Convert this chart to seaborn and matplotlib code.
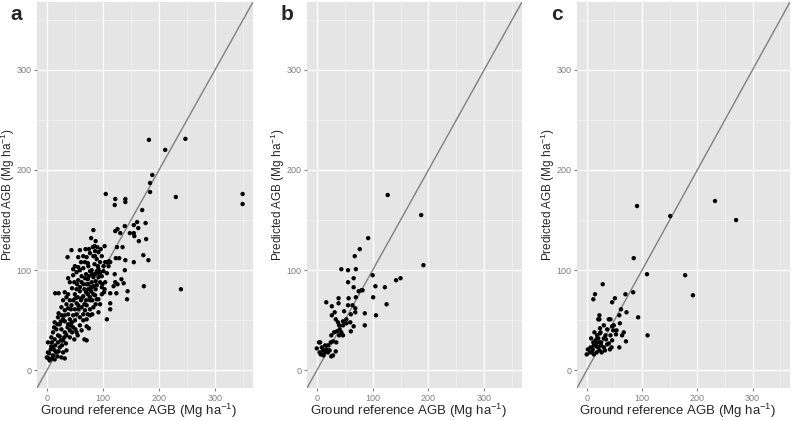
import numpy as np
import pandas as pd
import matplotlib
matplotlib.use("Agg")
import matplotlib.pyplot as plt
import seaborn as sns

# Données (Ground reference AGB, Predicted AGB)
panel_labels = ["a", "b", "c"]
ticks = [0, 100, 200, 300]
minor_ticks = [50, 150, 250, 350]

pts_a = [
    (182, 230), (211, 220), (247, 231), (188, 195), (184, 187), (184, 178), (230, 173),
    (349, 176), (349, 166), (105, 176), (122, 171), (121, 165), (140, 171), (140, 168),
    (170, 160), (161, 148), (155, 145), (163, 142), (148, 137), (156, 134), (122, 139),
    (126, 141), (139, 144), (164, 129), (155, 137), (131, 137), (176, 147), (177, 131),
    (172, 115), (181, 110), (155, 108), (140, 110), (139, 100), (135, 123), (125, 123),
    (129, 112), (123, 112), (173, 84), (239, 81), (144, 79), (143, 71), (107, 51),
    (137, 87), (133, 91), (121, 96), (122, 88), (119, 84), (126, 86), (124, 77),
    (113, 77), (113, 67), (113, 61), (102, 78), (99, 86), (103, 124), (98, 114),
    (111, 109), (108, 108), (92, 101),
    (15, 77), (21, 77), (38, 76), (37, 113), (44, 120), (59, 120), (65, 114), (56, 113),
    (69, 121), (75, 121), (77, 117), (82, 123), (79, 132), (83, 140), (87, 129), (86, 114),
    (73, 107), (50, 104), (56, 103), (47, 95), (65, 102), (68, 92), (62, 88), (54, 86),
    (45, 82), (41, 70), (35, 66), (32, 60), (21, 57), (29, 51), (38, 56), (44, 65),
    (50, 61), (56, 65), (51, 72), (62, 72), (67, 66), (70, 78), (74, 81), (83, 84),
    (87, 89), (92, 93), (95, 98), (91, 104), (101, 104), (98, 94), (80, 100), (75, 94),
    (71, 86), (79, 79), (86, 75), (89, 71), (77, 70), (68, 60), (73, 56), (81, 56),
    (87, 66), (95, 66), (92, 58), (71, 44), (75, 42), (67, 31), (71, 30), (53, 38),
    (59, 45), (47, 43), (41, 40), (32, 38), (26, 41), (20, 35), (14, 31), (8, 24),
    (2, 18), (0, 13), (3, 12), (11, 15), (17, 18), (23, 23), (26, 13), (29, 18),
    (35, 20), (20, 28), (11, 22), (5, 10), (7, 21), (15, 25),
    (41, 51), (47, 55), (53, 56), (59, 53), (65, 56), (56, 61), (62, 63), (70, 70),
    (65, 74), (59, 79), (53, 81), (50, 76), (77, 73), (83, 76), (74, 86), (80, 88),
    (83, 93), (86, 96), (89, 99), (93, 97), (95, 108), (89, 111), (85, 106), (77, 99),
    (70, 96), (62, 94), (56, 90), (49, 88), (41, 88), (38, 92), (32, 78), (35, 73),
    (29, 70), (26, 63), (20, 53), (14, 48), (17, 41), (23, 46), (32, 49), (38, 46),
    (44, 48), (50, 50), (35, 35), (41, 33), (29, 30), (23, 34), (11, 38), (8, 33),
    (2, 28), (4, 17), (9, 12), (14, 11), (19, 14), (32, 12), (27, 25), (34, 27),
    (45, 38), (51, 41), (62, 40), (65, 50), (71, 51), (77, 55), (83, 63), (92, 71),
    (98, 76), (103, 81), (104, 88), (101, 99), (107, 97), (110, 104), (104, 108),
    (113, 108), (74, 104), (68, 108), (61, 108), (53, 98), (59, 100), (47, 101),
    (71, 113), (83, 114), (92, 118), (96, 121), (90, 123), (85, 124), (86, 119),
    (55, 73), (61, 70), (67, 81), (73, 76), (79, 83), (71, 65), (77, 61), (81, 70),
    (87, 81), (89, 85), (95, 88), (98, 83), (81, 96), (73, 91), (65, 86), (59, 83),
    (53, 67), (47, 70), (43, 61), (38, 62), (32, 55), (27, 55), (25, 49), (19, 46),
    (13, 43), (9, 28), (14, 20), (21, 19), (25, 30), (31, 33), (37, 43), (43, 45),
    (49, 31), (55, 35),
]

pts_b = [
    (127, 175), (187, 155), (191, 105), (92, 132), (77, 121), (68, 114), (70, 101),
    (44, 101), (56, 100), (100, 95), (142, 90), (150, 92), (122, 83), (105, 84),
    (101, 73), (125, 66), (106, 55), (86, 45), (86, 57), (66, 92), (56, 88), (66, 83),
    (75, 79), (80, 80), (82, 80), (70, 73), (57, 72), (56, 65), (64, 65), (69, 62),
    (69, 58), (61, 56), (49, 59), (39, 72), (39, 67), (17, 68), (27, 64), (27, 55),
    (32, 58), (34, 51), (38, 48), (40, 45), (47, 49), (53, 51), (53, 47), (60, 48),
    (66, 44), (61, 39), (41, 41), (44, 38), (47, 35), (40, 35), (36, 39), (31, 38),
    (26, 35), (47, 45), (29, 29), (25, 28), (20, 25), (35, 28), (4, 28), (6, 28),
    (0, 22), (5, 18), (11, 20), (14, 18), (17, 21), (20, 18), (23, 20), (7, 16),
    (12, 15), (26, 14), (29, 15), (34, 19), (9, 23), (15, 25),
]

pts_c = [
    (232, 169), (270, 150), (91, 164), (151, 154), (85, 112), (109, 96), (178, 95),
    (192, 75), (29, 86), (84, 78), (70, 76), (15, 76), (12, 71), (51, 72), (46, 68),
    (62, 61), (72, 58), (93, 53), (59, 55), (110, 35), (23, 55), (21, 51), (23, 51),
    (40, 51), (43, 51), (60, 47), (49, 45), (46, 44), (31, 45), (37, 41), (24, 42),
    (14, 38), (25, 38), (54, 40), (67, 38), (64, 35), (71, 29), (59, 23), (53, 36),
    (43, 35), (46, 30), (40, 27), (34, 35), (31, 32), (19, 32), (8, 32), (12, 28),
    (16, 30), (21, 32), (23, 28), (26, 28), (35, 31), (37, 26), (42, 21), (45, 23),
    (31, 23), (26, 25), (21, 23), (18, 24), (13, 25), (7, 23), (2, 21), (6, 18),
    (0, 16), (10, 18), (13, 16), (18, 18), (23, 20), (27, 18), (33, 20), (11, 21),
    (17, 27), (19, 35), (24, 37), (48, 40),
]

frames = []
for lab, pts in zip(panel_labels, [pts_a, pts_b, pts_c]):
    d = pd.DataFrame(pts, columns=["ref", "pred"])
    d["panel"] = lab
    frames.append(d)
df = pd.concat(frames, ignore_index=True)

sns.set_style("darkgrid", {"axes.facecolor": "#E5E5E5", "grid.color": "white"})
plt.rcParams["font.family"] = ["Liberation Sans", "DejaVu Sans"]
plt.rcParams["mathtext.fontset"] = "custom"
plt.rcParams["mathtext.rm"] = "Liberation Sans"
plt.rcParams["mathtext.it"] = "Liberation Sans:italic"

fig = plt.figure(figsize=(7.94, 4.21), dpi=100)
lefts = [37, 307, 577]
widths = [216, 215, 213]
letter_x = [10, 281, 551]

for i, lab in enumerate(panel_labels):
    ax = fig.add_axes([lefts[i] / 794, 33 / 421, widths[i] / 794, 386 / 421])
    sub = df[df["panel"] == lab]
    ax.set_xlim(-17.5, 367.5)
    ax.set_ylim(-17.5, 367.5)
    for m in minor_ticks:
        ax.axvline(m, color="#F2F2F2", lw=0.5, zorder=0.5)
        ax.axhline(m, color="#F2F2F2", lw=0.5, zorder=0.5)
    ax.grid(True, color="white", lw=0.9, zorder=0.6)
    ax.set_axisbelow(True)
    ax.axline((0, 0), slope=1, color="#808080", lw=1.0, zorder=2)
    sns.scatterplot(data=sub, x="ref", y="pred", ax=ax, color="black",
                    s=10, edgecolor="none", linewidth=0, zorder=3)
    ax.set_xticks(ticks)
    ax.set_yticks(ticks)
    ax.tick_params(axis="both", colors="#7F7F7F", labelsize=6.5, length=2.5,
                   width=0.8, direction="out", pad=1.5, bottom=True, left=True)
    ax.set_xlabel("Ground reference AGB (Mg ha$^{-1}$)", fontsize=9.5)
    ax.set_ylabel("Predicted AGB (Mg ha$^{-1}$)", fontsize=8.5)
    ax.xaxis.set_label_coords(0.47, -0.037)
    ax.yaxis.set_label_coords(-0.092, 0.5)
    for sp in ax.spines.values():
        sp.set_visible(False)
    fig.text(letter_x[i] / 794, 1 - 20 / 421, lab, fontsize=15,
             fontweight="bold", ha="left", va="baseline")

fig.savefig("out.png", dpi=100)
